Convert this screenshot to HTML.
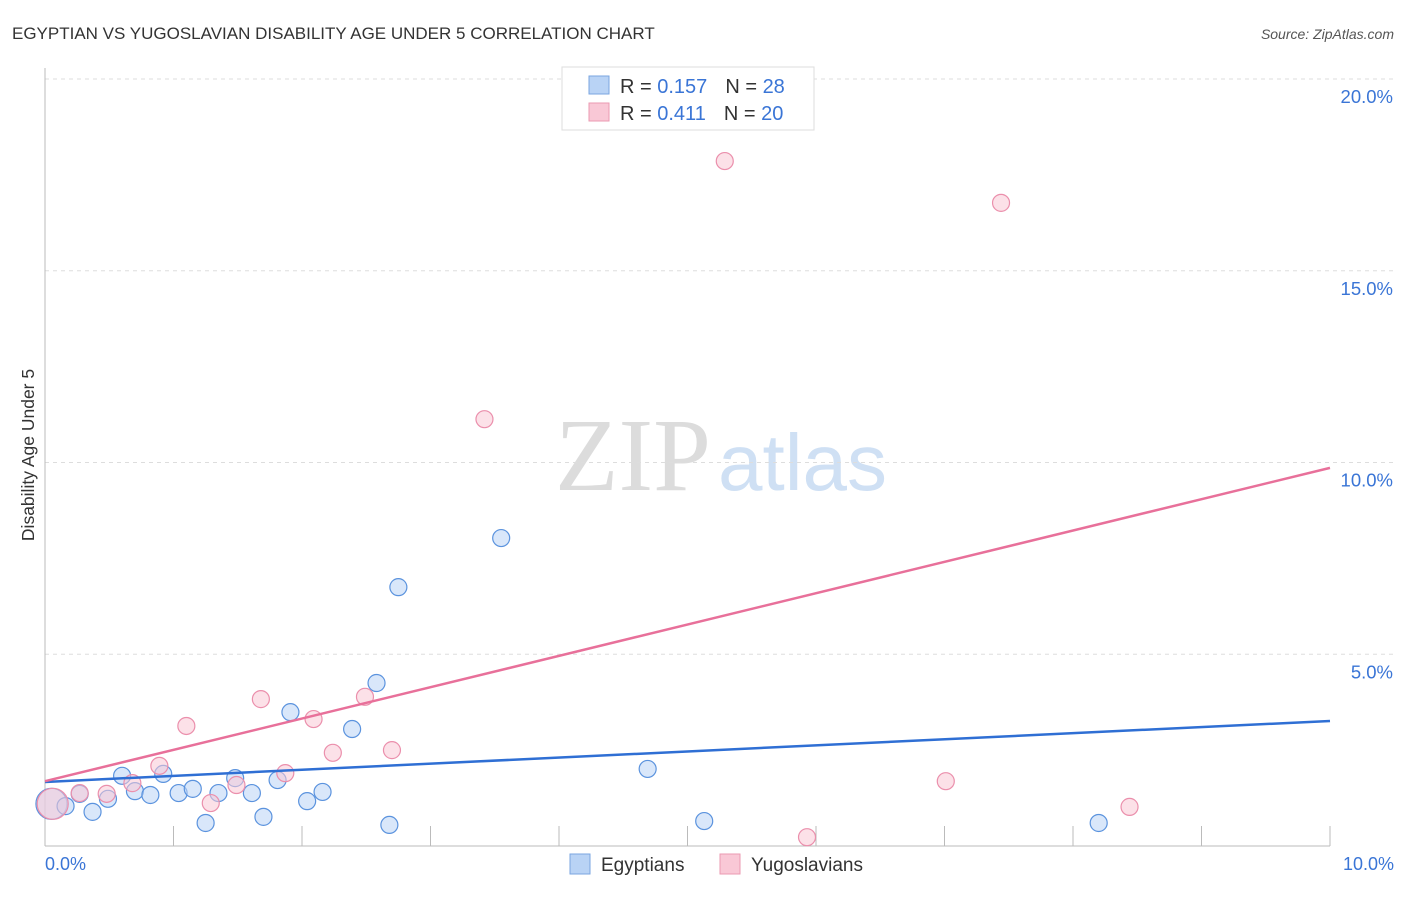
<!DOCTYPE html>
<html><head><meta charset="utf-8"><style>
body{margin:0;background:#fff;font-family:"Liberation Sans",sans-serif;}
svg text{font-family:"Liberation Sans",sans-serif;}
</style></head><body>
<svg width="1406" height="892">
<text x="12" y="39" font-size="17" fill="#333">EGYPTIAN VS YUGOSLAVIAN DISABILITY AGE UNDER 5 CORRELATION CHART</text>
<text x="1394" y="39" font-size="14" fill="#555" font-style="italic" text-anchor="end">Source: ZipAtlas.com</text>
<text x="555" y="490" font-size="104" fill="#dcdcdc" style="font-family:'Liberation Serif',serif">ZIP</text>
<text x="718" y="490" font-size="80" fill="#cfe0f4">atlas</text>
<text transform="translate(34,455) rotate(-90)" font-size="17.5" fill="#333" text-anchor="middle">Disability Age Under 5</text>
<g id="grid"></g><g id="ticks"></g>
<line x1="45" y1="68" x2="45" y2="846" stroke="#bbb"/>
<line x1="45" y1="846" x2="1330" y2="846" stroke="#bbb"/>
<text x="45" y="870" font-size="18" fill="#3a75d6">0.0%</text>
<text x="1394" y="870" font-size="18" fill="#3a75d6" text-anchor="end">10.0%</text>
<g id="pts"></g><g id="lines"></g>
<g>
<rect x="562" y="67" width="252" height="63" fill="#fff" stroke="#ddd"/>
<rect x="589" y="76" width="20" height="18" fill="#b9d3f5" stroke="#7aa6e0"/>
<rect x="589" y="103" width="20" height="18" fill="#f9c8d6" stroke="#eb9ab2"/>
<text x="620" y="93" font-size="20" fill="#333">R = <tspan fill="#3a75d6">0.157</tspan><tspan dx="18">N = </tspan><tspan fill="#3a75d6">28</tspan></text>
<text x="620" y="120" font-size="20" fill="#333">R = <tspan fill="#3a75d6"> 0.411</tspan><tspan dx="18">N = </tspan><tspan fill="#3a75d6">20</tspan></text>
</g>
<g>
<rect x="570" y="854" width="20" height="20" fill="#b9d3f5" stroke="#7aa6e0"/>
<text x="601" y="871" font-size="19" fill="#333">Egyptians</text>
<rect x="720" y="854" width="20" height="20" fill="#f9c8d6" stroke="#eb9ab2"/>
<text x="751" y="871" font-size="19" fill="#333">Yugoslavians</text>
</g>
</svg>
<script>
const yTicks=[5,10,15,20];
const xTickVals=[0,1,2,3,4,5,6,7,8,9,10];
const egyX=[0.05,0.16,0.27,0.37,0.49,0.60,0.70,0.82,0.92,1.04,1.15,1.25,1.35,1.48,1.61,1.70,1.81,1.91,2.04,2.16,2.39,2.58,2.68,2.75,3.55,4.69,5.13,8.20];
const egyY=[1.10,1.04,1.36,0.89,1.23,1.83,1.43,1.33,1.88,1.38,1.49,0.60,1.38,1.77,1.38,0.76,1.72,3.49,1.17,1.41,3.05,4.25,0.55,6.75,8.03,2.01,0.65,0.60];
const yugX=[0.06,0.27,0.48,0.68,0.89,1.10,1.29,1.49,1.68,1.87,2.09,2.24,2.49,2.70,3.42,5.29,7.44,7.01,8.44,5.93];
const yugY=[1.10,1.38,1.36,1.64,2.09,3.13,1.12,1.59,3.83,1.90,3.31,2.43,3.89,2.50,11.13,17.86,16.77,1.69,1.02,0.23];
const egyTrend=[1.67,3.26];
const yugTrend=[1.69,9.86];
const NS='http://www.w3.org/2000/svg';
const sx=v=>45+v/10*1285, sy=v=>846-v/20*767;
function mk(t,a,p){const e=document.createElementNS(NS,t);for(const k in a)e.setAttribute(k,a[k]);document.getElementById(p).appendChild(e);return e;}
yTicks.forEach(v=>{
 const l=mk('line',{x1:45,x2:1394,y1:sy(v),y2:sy(v),stroke:'#ddd','stroke-dasharray':'4,4'},'grid');
 
 
 const t=mk('text',{x:1393,y:sy(v)+24,'font-size':18.5,fill:'#3a75d6','text-anchor':'end'},'grid');
 t.textContent=v.toFixed(1)+'%';
 
 
});
xTickVals.forEach(v=>{
 const l=mk('line',{x1:sx(v),x2:sx(v),y1:826,y2:846,stroke:'#bbb'},'ticks');
 
 
});
function pts(X,Y,fill,stroke,name){
 X.forEach((x,i)=>{
  const c=mk('circle',{cx:sx(x),cy:sy(Y[i]),r:i===0?15.5:8.5,fill:fill,'fill-opacity':0.55,stroke:stroke,'stroke-width':1.2},'pts');
  
  
 });
}
pts(egyX,egyY,'#b9d3f5','#5b93de','egyptian-point');
pts(yugX,yugY,'#f9c8d6','#eb8fac','yugoslavian-point');
const l1=mk('line',{x1:sx(0),x2:sx(10),y1:sy(egyTrend[0]),y2:sy(egyTrend[1]),stroke:'#2f6fd4','stroke-width':2.5},'lines');


const l2=mk('line',{x1:sx(0),x2:sx(10),y1:sy(yugTrend[0]),y2:sy(yugTrend[1]),stroke:'#e8709a','stroke-width':2.5},'lines');


</script>
</body></html>
